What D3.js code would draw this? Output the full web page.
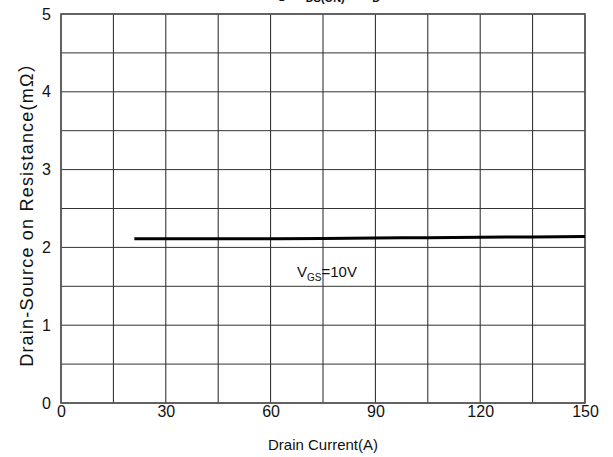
<!DOCTYPE html>
<html>
<head>
<meta charset="utf-8">
<script src="https://cdn.jsdelivr.net/npm/d3@7/dist/d3.min.js"></script>
<style>
  body { margin: 0; background: #fff; }
  svg { display: block; font-family: "Liberation Sans", Arial, sans-serif; }
</style>
</head>
<body>
<svg id="chart" width="613" height="457"></svg>
<script>
// drain current (A) and on-resistance (mOhm) at VGS = 10V
const current = [21, 30, 45, 60, 75, 90, 105, 120, 135, 150];
const resistance = [2.11, 2.11, 2.11, 2.11, 2.115, 2.12, 2.125, 2.13, 2.135, 2.14];
const xTicks = [0, 30, 60, 90, 120, 150];
const yTicks = [0, 1, 2, 3, 4, 5];
const xGrid = d3.range(0, 151, 15);
const yGrid = d3.range(0, 5.01, 0.5);

const W = 613, H = 457;
const M = { left: 61, right: 28, top: 14, bottom: 54 };
const FONT = '"Liberation Sans", Arial, sans-serif';

const svg = d3.select('#chart');

const x = d3.scaleLinear().domain([0, 150]).range([M.left, W - M.right]);
const y = d3.scaleLinear().domain([0, 5]).range([H - M.bottom, M.top]);

// grid
svg.append('g')
  .selectAll('line')
  .data(xGrid)
  .join('line')
  .attr('x1', d => x(d)).attr('x2', d => x(d))
  .attr('y1', y(0)).attr('y2', y(5))
  .attr('stroke', '#222').attr('stroke-width', 1);

svg.append('g')
  .selectAll('line')
  .data(yGrid)
  .join('line')
  .attr('x1', x(0)).attr('x2', x(150))
  .attr('y1', d => y(d)).attr('y2', d => y(d))
  .attr('stroke', '#333').attr('stroke-width', 1);

// frame
svg.append('rect')
  .attr('x', x(0)).attr('y', y(5))
  .attr('width', x(150) - x(0)).attr('height', y(0) - y(5))
  .attr('fill', 'none').attr('stroke', '#555').attr('stroke-width', 1.6);

// axes
svg.append('g')
  .attr('transform', `translate(0,${y(0)})`)
  .call(d3.axisBottom(x).tickValues(xTicks).tickSize(0).tickPadding(3).tickFormat(d3.format('d')))
  .call(ax => ax.select('.domain').remove())
  .call(ax => ax.selectAll('text').attr('fill', '#111').attr('font-size', 16).attr('font-family', FONT));

svg.append('g')
  .attr('transform', `translate(${x(0)},0)`)
  .call(d3.axisLeft(y).tickValues(yTicks).tickSize(0).tickPadding(10).tickFormat(d3.format('d')))
  .call(ax => ax.select('.domain').remove())
  .call(ax => ax.selectAll('text').attr('fill', '#111').attr('font-size', 16).attr('font-family', FONT));

// curve
svg.append('path')
  .datum(current.map((c, i) => [c, resistance[i]]))
  .attr('fill', 'none')
  .attr('stroke', '#000')
  .attr('stroke-width', 3)
  .attr('d', d3.line().x(d => x(d[0])).y(d => y(d[1])).curve(d3.curveMonotoneX));

// labels
svg.append('text')
  .attr('x', 323).attr('y', 450)
  .attr('text-anchor', 'middle')
  .attr('font-size', 15).attr('fill', '#111')
  .text('Drain Current(A)');

const yLab = svg.append('text')
  .attr('transform', 'translate(33,210) rotate(-90)')
  .attr('text-anchor', 'middle')
  .attr('font-size', 18).attr('fill', '#111')
  .attr('letter-spacing', 1.2)
  .attr('font-family', '"Liberation Sans", Arial, "Noto Sans CJK SC", sans-serif');
yLab.append('tspan').text('Drain-Source on Resistance(mΩ');
yLab.append('tspan').attr('font-family', '"Noto Sans CJK SC", sans-serif').text('）');

const vgs = svg.append('text')
  .attr('x', 297).attr('y', 277)
  .attr('font-size', 15).attr('fill', '#111');
vgs.append('tspan').text('V');
vgs.append('tspan').attr('font-size', 10).attr('dy', 4).text('GS');
vgs.append('tspan').attr('dy', -4).text('=10V');

// title, mostly cropped off the top like the source
const title = svg.append('text')
  .attr('x', 264).attr('y', -2)
  .attr('font-size', 15).attr('font-weight', 'bold').attr('fill', '#111');
title.append('tspan').text('Fig. R');
title.append('tspan').attr('font-size', 11).attr('dy', 4).text('DS(ON)');
title.append('tspan').attr('dy', -4).text(' — I');
title.append('tspan').attr('font-size', 11).attr('dy', 4).text('D');
</script>
</body>
</html>
